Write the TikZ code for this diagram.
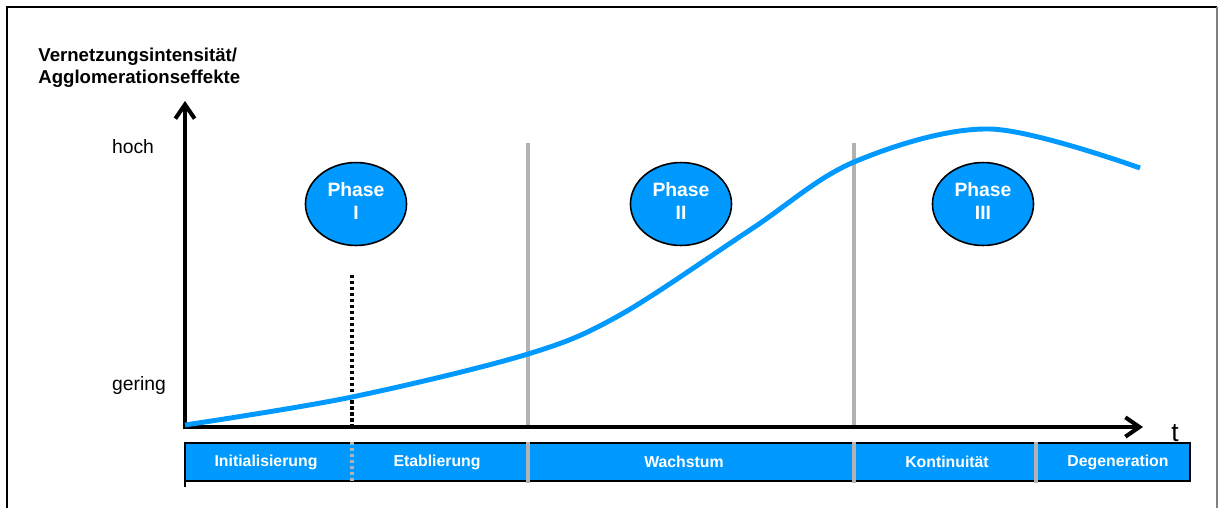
\documentclass[tikz,border=0pt]{standalone}
\usepackage{fontspec}
\setmainfont{Liberation Sans}
\usetikzlibrary{arrows.meta,shapes.geometric}
\definecolor{phaseblue}{RGB}{0,153,255}
\definecolor{sepgray}{RGB}{178,178,178}

\begin{document}
\begin{tikzpicture}
[x=0.2mm,y=-0.2mm,
  axisline/.style={line width=2.3pt,-{Straight Barb[length=8pt,width=11pt]}},%
  growthcurve/.style={line width=2.8pt,phaseblue},%
  phasesep/.style={line width=2.2pt,sepgray},%
  startsep/.style={line width=2.3pt,black,dash pattern=on 1.8pt off 1.6pt},%
  barsep/.style={line width=2.2pt,sepgray,dash pattern=on 1.8pt off 1.6pt},%
  phasebubble/.style={shape=ellipse,fill=phaseblue,draw,line width=0.9pt,
    minimum width=57.5pt,minimum height=47.2pt,inner sep=0pt,align=center,
    text depth=3.6pt,text=white,font=\fontsize{11}{13}\selectfont\bfseries},%
  axislabel/.style={anchor=base west,inner sep=0pt,font=\fontsize{10.6}{13}\selectfont\bfseries},%
  levellabel/.style={font=\fontsize{11}{13}\selectfont},%
  barlabel/.style={text=white,font=\fontsize{9}{11}\selectfont\bfseries}]
\useasboundingbox (0,0) rectangle (1219,508);
%% frame
\coordinate (fSW) at (7,508);
\coordinate (fNW) at (7,7);
\coordinate (fNE) at (1217,7);
\coordinate (fSE) at (1217,508);
\draw[line width=1.2pt] (fSW) -- (fNW) -- (fNE);
\draw[line width=1.1pt,gray] (fNE) -- (fSE);
%% axes
\coordinate (ycorner) at (185,429);
\coordinate (ytip) at (185,101);
\coordinate (xstart) at (183,427);
\coordinate (xtip) at (1143,427);
\draw[axisline] (ycorner) -- (ytip);
\draw[axisline] (xstart) -- (xtip);
\node (ylabA) at (38,61) [axislabel] {Vernetzungsintensität/};
\node (ylabB) at (38,83) [axislabel] {Agglomerationseffekte};
\node (hoch) at (133,147) [levellabel] {hoch};
\node (gering) at (139,385) [levellabel] {gering};
\node (t) at (1175,433) [font=\fontsize{15}{17}\selectfont] {t};
%% phase borders
\foreach \name/\x in {b2/528, b3/854}
{
  \coordinate (\name top) at (\x,143);
  \coordinate (\name bot) at (\x,425);
  \draw[phasesep] (\name top) -- (\name bot);
}
\coordinate (b1top) at (352,275);
\coordinate (b1bot) at (352,425);
\draw[startsep] (b1top) -- (b1bot);
%% curve
\draw[growthcurve] plot[smooth,tension=0.55] coordinates {(185,425) (352,397)
  (528,354) (620,315) (750,230) (854,162) (990,129) (1140,168)};
%% phases
\foreach \name/\x/\num in {ph1/356/I, ph2/681/II, ph3/983/III}
{
  \node (\name) at (\x,204) [phasebubble] {Phase\\\num};
}
%% stage bar
\coordinate (barNW) at (185,443);
\coordinate (barSE) at (1190,481);
\coordinate (bartail) at (185,487);
\draw[fill=phaseblue,line width=1.6pt] (barNW) rectangle (barSE);
\draw[line width=1.6pt] (barNW) -- (bartail);
\coordinate (s1top) at (352,442);
\coordinate (s1bot) at (352,482);
\draw[barsep] (s1top) -- (s1bot);
\foreach \name/\x in {s2/528, s3/854, s4/1036}
{
  \coordinate (\name top) at (\x,442);
  \coordinate (\name bot) at (\x,483);
  \draw[phasesep] (\name top) -- (\name bot);
}
\foreach \name/\x/\txt in {st1/266/Initialisierung, st2/437/Etablierung,
  st3/684/Wachstum, st4/947/Kontinuität, st5/1118/Degeneration}
{
  \node (\name) at (\x,462) [barlabel] {\txt};
}
\end{tikzpicture}
\end{document}
